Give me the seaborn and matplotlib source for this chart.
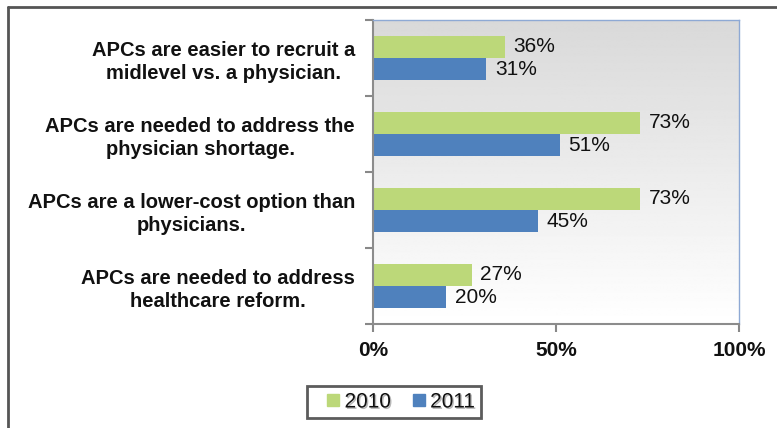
import numpy as np
import pandas as pd
import matplotlib
matplotlib.use("Agg")
import matplotlib.pyplot as plt
import matplotlib.patheffects as pe
from matplotlib.lines import Line2D
import seaborn as sns

# Survey statements (top to bottom) and share of respondents agreeing
statements = [
    "APCs are easier to recruit a\nmidlevel vs. a physician.",
    "APCs are needed to address the\nphysician shortage.",
    "APCs are a lower-cost option than\nphysicians.",
    "APCs are needed to address\nhealthcare reform.",
]
pct_2010 = [36, 73, 73, 27]
pct_2011 = [31, 51, 45, 20]
years = ["2010", "2011"]
x_ticks = [0, 50, 100]
x_tick_labels = ["0%", "50%", "100%"]

GREEN = "#BCD879"
BLUE = "#4F81BD"

df = pd.DataFrame({
    "statement": statements * 2,
    "year": [years[0]] * len(statements) + [years[1]] * len(statements),
    "pct": pct_2010 + pct_2011,
})

sns.set_style("white")
plt.rcParams["font.family"] = ["Liberation Sans", "DejaVu Sans"]

fig = plt.figure(figsize=(7.77, 4.28), dpi=100)
ax = fig.add_axes([373 / 777, 1 - 324 / 428, 366 / 777, 304 / 428])

sns.barplot(
    data=df, y="statement", x="pct", hue="year", order=statements,
    hue_order=years, palette=[GREEN, BLUE], orient="h", width=0.58,
    saturation=1, ax=ax, legend=False, errorbar=None, linewidth=0,
)

# Vertical grey-to-white gradient behind the bars
grad = np.linspace(0.85, 1.0, 256).reshape(-1, 1)
ax.imshow(grad, cmap="gray", vmin=0, vmax=1, aspect="auto",
          extent=[0, 1, 0, 1], transform=ax.transAxes, zorder=0)

ax.set_xlim(0, 100)
ax.set_ylim(len(statements) - 0.5, -0.5)

for cont in ax.containers:
    ax.bar_label(cont, fmt="%d%%", padding=6, fontsize=15, color="#111111")

ax.set_xlabel("")
ax.set_ylabel("")
ax.set_xticks(x_ticks)
ax.set_xticklabels(x_tick_labels, fontsize=15, fontweight="bold")
ax.tick_params(axis="x", bottom=True, length=6, width=1.5, color="#888888",
               pad=6, labelcolor="#111111")

ax.set_yticks(range(len(statements)))
ax.set_yticklabels(statements, fontsize=14.5, fontweight="bold", linespacing=1.25)
for lab in ax.get_yticklabels():
    lab.set_multialignment("center")
ax.tick_params(axis="y", which="major", length=0, pad=13, labelcolor="#111111")
ax.set_yticks(np.arange(-0.5, len(statements), 1.0), minor=True)
ax.tick_params(axis="y", which="minor", left=True, length=6, width=1.5,
               color="#888888")

for side in ("left", "bottom"):
    ax.spines[side].set_color("#8c8c8c")
    ax.spines[side].set_linewidth(1.5)
for side in ("right", "top"):
    ax.spines[side].set_color("#8EA9D4")
    ax.spines[side].set_linewidth(1.0)

# Legend with square swatches
handles = [Line2D([], [], ls="none", marker="s", markersize=8, color=GREEN, label=years[0]),
           Line2D([], [], ls="none", marker="s", markersize=8, color=BLUE, label=years[1])]
leg = fig.legend(handles=handles, loc="center", bbox_to_anchor=(394 / 777, 1 - 402 / 428),
                 ncol=2, frameon=True, fancybox=False, fontsize=15,
                 handlelength=1.97, handletextpad=-0.45,
                 columnspacing=0.35, borderpad=0.3)
leg.get_frame().set_edgecolor("#333333")
leg.get_frame().set_linewidth(2)
for txt in leg.get_texts():
    txt.set_color("#111111")
    txt.set_path_effects([pe.SimplePatchShadow(offset=(1, -1), shadow_rgbFace="#888888",
                                               alpha=0.6), pe.Normal()])

# Outer frame lines
fig.add_artist(Line2D([8 / 777, 8 / 777], [0, 1 - 7 / 428], color="#555555", lw=2))
fig.add_artist(Line2D([8 / 777, 1], [1 - 7 / 428, 1 - 7 / 428], color="#555555", lw=2))

fig.savefig("out.png", dpi=100, facecolor="white")
